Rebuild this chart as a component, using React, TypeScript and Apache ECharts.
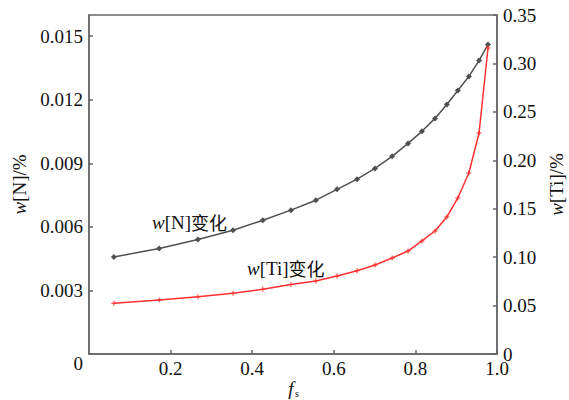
import React, { useEffect, useRef } from 'react';
import * as echarts from 'echarts';

const fsValues = [0.061, 0.172, 0.267, 0.353, 0.426, 0.495, 0.556, 0.608, 0.657, 0.701, 0.743, 0.782, 0.816, 0.848, 0.877, 0.904, 0.931, 0.956, 0.978];
const wN = [0.00458, 0.00498, 0.0054, 0.00584, 0.00631, 0.00679, 0.00726, 0.00777, 0.00825, 0.00876, 0.00933, 0.00994, 0.01051, 0.01112, 0.01178, 0.01244, 0.0131, 0.01385, 0.01461];
const wTi = [0.0523, 0.0557, 0.0592, 0.0627, 0.0668, 0.0718, 0.0754, 0.0805, 0.086, 0.0919, 0.0991, 0.1063, 0.1167, 0.127, 0.1414, 0.1611, 0.1869, 0.2282, 0.3159];

const SERIF = 'Liberation Serif';
const CJK = 'Noto Sans CJK SC';
const AXIS_COLOR = '#666666';
const TEXT_COLOR = '#111111';

export default function App() {
  const ref = useRef<HTMLDivElement>(null);
  useEffect(() => {
    if (!ref.current) return;
    document.body.style.margin = '0';
    const chart = echarts.init(ref.current, undefined, { renderer: 'svg', width: 569, height: 400 });
    const axisCommon = {
      axisLine: { show: true, lineStyle: { color: AXIS_COLOR, width: 1.5 } },
      axisTick: { show: true, inside: true, length: 4, lineStyle: { color: AXIS_COLOR, width: 1.5 } },
      splitLine: { show: false },
    };
    const labelCommon = { color: TEXT_COLOR, fontFamily: SERIF, fontSize: 19 };
    chart.setOption({
      animation: false,
      backgroundColor: '#ffffff',
      textStyle: { fontFamily: SERIF },
      grid: {
        left: 89, right: 72, top: 15, bottom: 46, show: true, borderColor: AXIS_COLOR, borderWidth: 1.5,
        containLabel: false, outerBoundsMode: 'none',
      },
      xAxis: {
        type: 'value', min: 0, max: 1, interval: 0.2,
        ...axisCommon,
        axisLabel: { ...labelCommon, margin: 5, showMinLabel: false, formatter: (v: number) => v.toFixed(1) },
      },
      yAxis: [
        {
          type: 'value', min: 0, max: 0.016, interval: 0.003, position: 'left',
          ...axisCommon,
          axisLabel: {
            ...labelCommon, margin: 6, showMaxLabel: false,
            formatter: (v: number) => (v === 0 ? '{z|0}' : v.toFixed(3)),
            rich: { z: { fontFamily: SERIF, fontSize: 19, color: TEXT_COLOR, padding: [18, 0, 0, 0] } },
          },
          name: '{i|w}{n|[N]/%}', nameLocation: 'middle', nameRotate: 90, nameGap: 51,
          nameTextStyle: {
            fontFamily: SERIF,
            rich: {
              i: { fontFamily: SERIF, fontSize: 19, fontStyle: 'italic', color: TEXT_COLOR },
              n: { fontFamily: SERIF, fontSize: 19, color: TEXT_COLOR },
            },
          },
        },
        {
          type: 'value', min: 0, max: 0.35, interval: 0.05, position: 'right',
          ...axisCommon,
          axisLabel: { ...labelCommon, margin: 6, formatter: (v: number) => (v === 0 ? '0' : v.toFixed(2)) },
          name: '{i|w}{n|[Ti]/%}', nameLocation: 'middle', nameRotate: 90, nameGap: 48,
          nameTextStyle: {
            fontFamily: SERIF,
            rich: {
              i: { fontFamily: SERIF, fontSize: 19, fontStyle: 'italic', color: TEXT_COLOR },
              n: { fontFamily: SERIF, fontSize: 19, color: TEXT_COLOR },
            },
          },
        },
      ],
      series: [
        {
          type: 'line', yAxisIndex: 0,
          data: fsValues.map((x, i) => [x, wN[i]]),
          symbol: 'diamond', symbolSize: 6, showSymbol: true,
          lineStyle: { color: '#505050', width: 1.5 },
          itemStyle: { color: '#505050' },
        },
        {
          type: 'line', yAxisIndex: 1,
          data: fsValues.map((x, i) => [x, wTi[i]]),
          symbol: 'path://M4,0 L6,0 L6,4 L10,4 L10,6 L6,6 L6,10 L4,10 L4,6 L0,6 L0,4 L4,4 Z', symbolSize: 5, showSymbol: true,
          lineStyle: { color: '#ff3030', width: 1.5 },
          itemStyle: { color: '#ff3030' },
        },
      ],
      graphic: [
        {
          type: 'text', x: 291, y: 388,
          style: { text: 'f', font: `italic 19px ${SERIF}`, fill: TEXT_COLOR, align: 'center', verticalAlign: 'middle' },
        },
        {
          type: 'text', x: 295, y: 393,
          style: { text: 's', font: `10px ${SERIF}`, fill: TEXT_COLOR, align: 'left', verticalAlign: 'middle' },
        },
        {
          type: 'text', x: 152, y: 222,
          style: {
            text: '{i|w}{n|[N]}{c|变化}', verticalAlign: 'middle', fontFamily: SERIF,
            rich: {
              i: { fontFamily: SERIF, fontSize: 19, fontStyle: 'italic', fill: TEXT_COLOR },
              n: { fontFamily: SERIF, fontSize: 19, fill: TEXT_COLOR },
              c: { fontFamily: CJK, fontSize: 18, fill: TEXT_COLOR },
            },
          },
        },
        {
          type: 'text', x: 247, y: 268,
          style: {
            text: '{i|w}{n|[Ti]}{c|变化}', verticalAlign: 'middle', fontFamily: SERIF,
            rich: {
              i: { fontFamily: SERIF, fontSize: 19, fontStyle: 'italic', fill: TEXT_COLOR },
              n: { fontFamily: SERIF, fontSize: 19, fill: TEXT_COLOR },
              c: { fontFamily: CJK, fontSize: 18, fill: TEXT_COLOR },
            },
          },
        },
      ],
    });
    return () => chart.dispose();
  }, []);
  return <div ref={ref} style={{ width: 569, height: 400 }} />;
}
